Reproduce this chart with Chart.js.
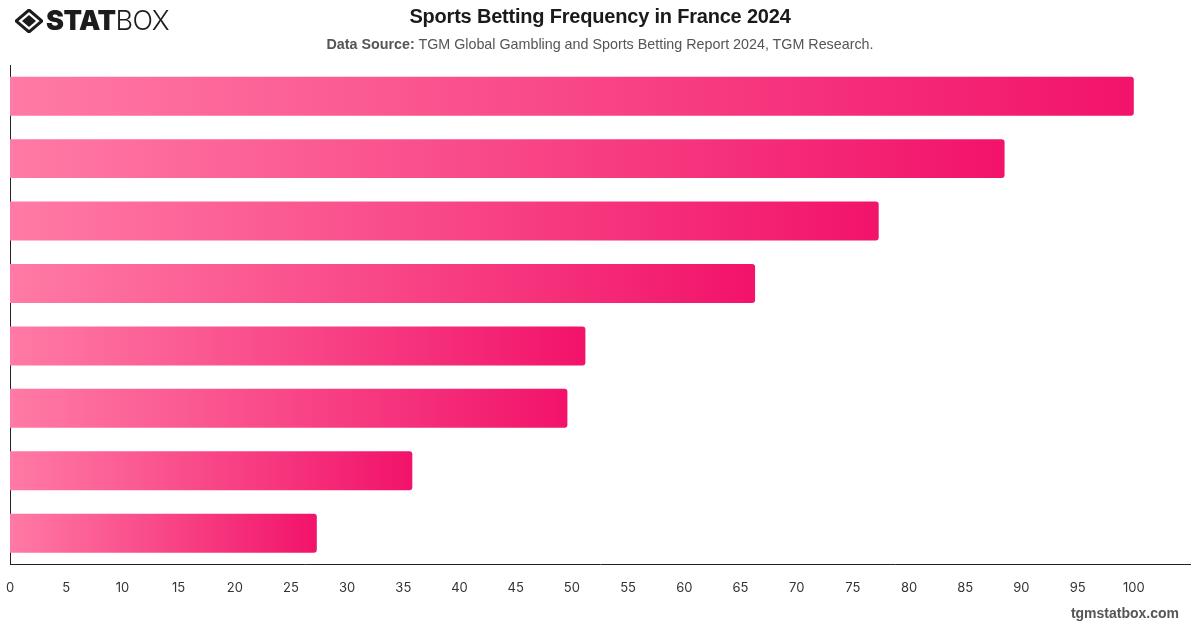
<!DOCTYPE html>
<html lang="en">
<head>
    <meta charset="UTF-8">
    <title>Sports Betting Frequency in France 2024</title>
    <script src="https://cdn.jsdelivr.net/npm/chart.js"></script>
    <style>
        html, body { margin: 0; padding: 0; background: #fff; }
        body { width: 1200px; height: 628px; position: relative; overflow: hidden; font-family: Inter, "Liberation Sans", Arial, sans-serif; }
        #wrap { position: absolute; left: 0; top: 0; width: 1200px; height: 628px; }
        .logo { position: absolute; left: 15px; top: 6px; display: flex; align-items: center; }
        .logo span { font-size: 27px; line-height: 30px; color: #1c1c1c; letter-spacing: -0.5px; }
        .logo .b { font-weight: 900; }
        .logo .l { font-weight: 300; }
        .title { position: absolute; left: 0; width: 1200px; top: 5px; text-align: center; font-size: 20px; font-weight: 700; color: #1a1a1a; font-family: "Liberation Sans", Arial, sans-serif; letter-spacing: -0.2px; }
        .sub { position: absolute; left: 0; width: 1200px; top: 36px; text-align: center; font-size: 14.3px; color: #555; font-family: "Liberation Sans", Arial, sans-serif; }
        .sub b { font-weight: 700; }
        .foot { position: absolute; right: 21px; top: 605px; font-size: 14px; font-weight: 700; color: #555; font-family: "Liberation Sans", Arial, sans-serif; }
    </style>
</head>
<body>
    <div id="wrap"><canvas id="chart" width="1200" height="628"></canvas></div>
    <div class="logo">
        <svg width="28" height="24" viewBox="0 0 28 24">
            <polygon points="14,1 27,12 14,23 1,12" fill="none" stroke="#1c1c1c" stroke-width="3"/>
            <polygon points="14,6 21,12 14,18 7,12" fill="#1c1c1c"/>
        </svg>
        <span class="b" style="margin-left:3px">STAT</span><span class="l">BOX</span>
    </div>
    <div class="title">Sports Betting Frequency in France 2024</div>
    <div class="sub"><b>Data Source:</b> TGM Global Gambling and Sports Betting Report 2024, TGM Research.</div>
    <div class="foot">tgmstatbox.com</div>

    <script>
        // categories (labels are hidden in the original picture)
        const categories = ['1', '2', '3', '4', '5', '6', '7', '8'];
        const values = [100, 88.5, 77.3, 66.3, 51.2, 49.6, 35.8, 27.3];
        const xTicks = [0, 5, 10, 15, 20, 25, 30, 35, 40, 45, 50, 55, 60, 65, 70, 75, 80, 85, 90, 95, 100];

        // gradient per bar, from the bar start to its end
        function barColor(context) {
            const chart = context.chart;
            if (!chart.chartArea || context.parsed === undefined) return '#f63a7c';
            const x = chart.scales.x;
            const x0 = x.getPixelForValue(0);
            const x1 = x.getPixelForValue(context.parsed.x);
            if (!isFinite(x0) || !isFinite(x1) || x1 - x0 < 1) return '#f63a7c';
            const g = chart.ctx.createLinearGradient(x0, 0, x1, 0);
            g.addColorStop(0, '#ff7aa5');
            g.addColorStop(1, '#f2136a');
            return g;
        }

        const ctx = document.getElementById('chart').getContext('2d');
        new Chart(ctx, {
            type: 'bar',
            data: {
                labels: categories,
                datasets: [{
                    data: values,
                    backgroundColor: barColor,
                    borderRadius: 3,
                    borderSkipped: 'start',
                    categoryPercentage: 0.8,
                    barPercentage: 0.78
                }]
            },
            options: {
                indexAxis: 'y',
                responsive: false,
                animation: false,
                layout: { padding: { top: 65, left: 10, right: 10, bottom: 16 } },
                plugins: { legend: { display: false }, tooltip: { enabled: false } },
                scales: {
                    x: {
                        min: 0,
                        max: 105,
                        afterBuildTicks: (axis) => { axis.ticks = xTicks.map(v => ({ value: v })); },
                        afterFit: (axis) => { axis.paddingLeft = 0; },
                        grid: { display: false, drawTicks: false },
                        border: { display: true, color: '#222', width: 1 },
                        ticks: {
                            padding: 16,
                            maxRotation: 0,
                            autoSkip: false,
                            color: '#333',
                            font: { family: 'Inter, "Liberation Sans", Arial, sans-serif', size: 13 }
                        }
                    },
                    y: {
                        afterFit: (axis) => { axis.width = 0; },
                        grid: { display: false, drawTicks: false },
                        border: { display: true, color: '#222', width: 1 },
                        ticks: { display: false }
                    }
                }
            }
        });
    </script>
</body>
</html>
